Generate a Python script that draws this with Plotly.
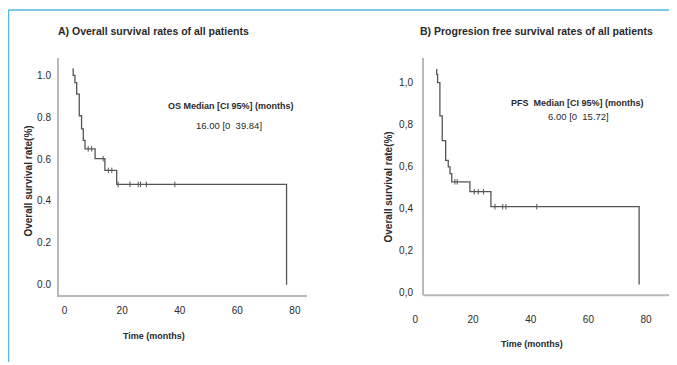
import plotly.graph_objects as go

# ---------------- data ----------------
# Panel A: overall survival (step points, time in months)
os_time = [2.7, 3.0, 3.6, 4.2, 5.1, 5.9, 6.5, 7.1, 10.6, 14.0, 18.1, 77.1]
os_surv = [1.03, 1.00, 0.965, 0.91, 0.807, 0.744, 0.689, 0.649, 0.602, 0.546, 0.479, 0.0]
os_cens_time = [8.2, 9.4, 13.4, 15.2, 16.4, 18.6, 22.7, 25.6, 26.4, 28.4, 38.3]
os_cens_surv = [0.649, 0.649, 0.602, 0.546, 0.546, 0.479, 0.479, 0.479, 0.479, 0.479, 0.479]

# Panel B: progression free survival
pfs_time = [7.15, 7.4, 7.7, 8.5, 9.3, 10.5, 11.4, 12.0, 12.6, 18.9, 26.2, 77.6]
pfs_surv = [1.061, 1.038, 0.999, 0.841, 0.723, 0.629, 0.598, 0.566, 0.527, 0.480, 0.409, 0.039]
pfs_cens_time = [13.7, 14.5, 20.4, 21.8, 23.6, 27.6, 30.3, 31.4, 42.1]
pfs_cens_surv = [0.527, 0.527, 0.480, 0.480, 0.480, 0.409, 0.409, 0.409, 0.409]

x_ticks = [0, 20, 40, 60, 80]
x_ticktext = ["0", "20", "40", "60", "80"]
y_ticks = [0.0, 0.2, 0.4, 0.6, 0.8, 1.0]
y_ticktext_a = ["0.0", "0.2", "0.4", "0.6", "0.8", "1.0"]
y_ticktext_b = ["0,0", "0,2", "0,4", "0,6", "0,8", "1,0"]

title_a = "A) Overall survival rates of all patients"
title_b = "B) Progresion free survival rates of all patients"
ytitle = "Overall survival rate(%)"
xtitle = "Time (months)"
med_a = ["OS Median [CI 95%] (months)", "16.00 [0  39.84]"]
med_b = ["PFS  Median [CI 95%] (months)", "6.00 [0  15.72]"]

# ---------------- layout helpers ----------------
# the page body adds an 8px margin, so the figure is drawn 8px smaller
OFF = 8
W, H = 677 - OFF, 365 - OFF
def fx(p):
    return (p - OFF) / W
def fy(p):
    return 1 - (p - OFF) / H

FONT = "Liberation Sans, Arial, sans-serif"
TXT = "#2a2a2a"
AXC = "#b8b8b8"
CURVE = "#555555"

fig = go.Figure()

fig.add_trace(go.Scatter(x=os_time, y=os_surv, mode="lines", line=dict(shape="hv", color=CURVE, width=1.3),
                         xaxis="x", yaxis="y", showlegend=False, hoverinfo="skip"))
fig.add_trace(go.Scatter(x=os_cens_time, y=os_cens_surv, mode="markers",
                         marker=dict(symbol="line-ns", size=4, line=dict(width=1, color=CURVE)),
                         xaxis="x", yaxis="y", showlegend=False, hoverinfo="skip"))
fig.add_trace(go.Scatter(x=pfs_time, y=pfs_surv, mode="lines", line=dict(shape="hv", color=CURVE, width=1.3),
                         xaxis="x2", yaxis="y2", showlegend=False, hoverinfo="skip"))
fig.add_trace(go.Scatter(x=pfs_cens_time, y=pfs_cens_surv, mode="markers",
                         marker=dict(symbol="line-ns", size=4, line=dict(width=1, color=CURVE)),
                         xaxis="x2", yaxis="y2", showlegend=False, hoverinfo="skip"))

ydom = [fy(297.7), fy(58)]
tickfont = dict(family=FONT, size=10, color=TXT)

fig.update_layout(
    width=W, height=H, margin=dict(l=0, r=0, t=0, b=0),
    paper_bgcolor="white", plot_bgcolor="white",
    font=dict(family=FONT, color=TXT),
    xaxis=dict(domain=[fx(59), fx(307)], range=[-1.94, 84.2], anchor="y",
               showline=True, linecolor=AXC, linewidth=2, showgrid=False, zeroline=False,
               tickvals=x_ticks, ticktext=x_ticktext, ticks="outside", ticklen=5,
               tickcolor="rgba(0,0,0,0)", tickfont=tickfont),
    yaxis=dict(domain=ydom, range=[-0.0507, 1.085], anchor="x",
               showline=True, linecolor=AXC, linewidth=2, showgrid=False, zeroline=False,
               tickvals=y_ticks, ticktext=y_ticktext_a, ticks="outside", ticklen=4,
               tickcolor="rgba(0,0,0,0)", tickfont=tickfont),
    xaxis2=dict(domain=[fx(400), fx(673)], range=[-5.34, 89.35], anchor="y2",
                showline=False, showgrid=False, zeroline=False,
                tickvals=x_ticks, ticktext=x_ticktext, ticks="outside", ticklen=15,
                tickcolor="rgba(0,0,0,0)", tickfont=tickfont),
    yaxis2=dict(domain=ydom, range=[-0.0127, 1.118], anchor="free", position=fx(423),
                showline=True, linecolor=AXC, linewidth=2, showgrid=False, zeroline=False,
                tickvals=y_ticks, ticktext=y_ticktext_b, ticks="outside", ticklen=7,
                tickcolor="rgba(0,0,0,0)", tickfont=tickfont),
)

shapes = [
    dict(type="line", xref="paper", yref="paper", x0=fx(423), x1=fx(673), y0=fy(297.7), y1=fy(297.7),
         line=dict(color=AXC, width=2)),
    dict(type="line", xref="paper", yref="paper", x0=fx(8.5), x1=1, y0=fy(10), y1=fy(10),
         line=dict(color="#4fb8e6", width=1.5)),
    dict(type="line", xref="paper", yref="paper", x0=fx(8.5), x1=fx(8.5), y0=fy(10), y1=0,
         line=dict(color="#4fb8e6", width=1.5)),
]
fig.update_layout(shapes=shapes)

def ann(text, x, y, size=10, bold=False, angle=0):
    return dict(text=text, x=fx(x), y=fy(y), xref="paper", yref="paper", showarrow=False,
                xanchor="center", yanchor="middle", textangle=angle,
                font=dict(family=FONT, size=size, color=TXT, weight="bold" if bold else "normal"))

fig.update_layout(annotations=[
    ann(title_a, 153.5, 31, size=10.5, bold=True),
    ann(title_b, 536.7, 31, size=10.5, bold=True),
    ann(ytitle, 29, 183, size=10, bold=True, angle=-90),
    ann(ytitle, 388, 189, size=10, bold=True, angle=-90),
    ann(xtitle, 153.5, 339, size=9, bold=True),
    ann(xtitle, 532, 346.5, size=9, bold=True),
    ann(med_a[0], 231, 107, size=9, bold=True),
    ann(med_a[1], 229, 126, size=9.5),
    ann(med_b[0], 577, 104, size=9, bold=True),
    ann(med_b[1], 578, 117.5, size=9.5),
])

fig.write_html("out.html")
